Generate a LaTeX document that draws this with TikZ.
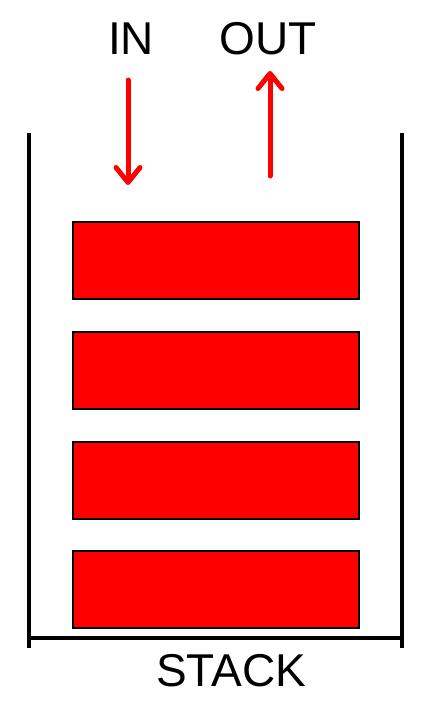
\documentclass[tikz,border=0pt]{standalone}
\usepackage{fontspec}
\setmainfont{Liberation Sans}
\usetikzlibrary{arrows.meta}
\tikzset{
  block/.style={draw=black, line width=1.5pt, fill=red, minimum width=286pt, minimum height=77pt, inner sep=0pt, anchor=north west},
  wall/.style={line width=4pt, black},
  flow/.style={red, line width=5pt, line cap=round, -{Straight Barb[length=15pt, width=24pt, round]}},
  lbl/.style={font=\fontsize{46}{52}\selectfont, inner sep=0pt, anchor=base}
}
\begin{document}
\begin{tikzpicture}[x=1pt, y=-1pt]
\useasboundingbox (0,0) rectangle (429,704);
% container
\coordinate (tl) at (29,133);
\coordinate (bl) at (29,648);
\coordinate (tr) at (402,133);
\coordinate (br) at (402,648);
\coordinate (fl) at (29,638);
\coordinate (fr) at (402,638);
\draw[wall] (tl) -- (bl);
\draw[wall] (tr) -- (br);
\draw[wall] (fl) -- (fr);
% blocks
\node[block] (b1) at (72,221) {};
\node[block] (b2) at (72,331) {};
\node[block] (b3) at (72,441) {};
\node[block] (b4) at (72,550) {};
% labels
\node[lbl] (in) at (131,54) {IN};
\node[lbl] (out) at (268,54) {OUT};
\node[lbl] (stack) at (231,686) {STACK};
% arrows
\coordinate (ina) at (128,80);
\coordinate (inb) at (128,185);
\coordinate (outa) at (270,176);
\coordinate (outb) at (270,71);
\draw[flow] (ina) -- (inb);
\draw[flow] (outa) -- (outb);
\end{tikzpicture}
\end{document}
